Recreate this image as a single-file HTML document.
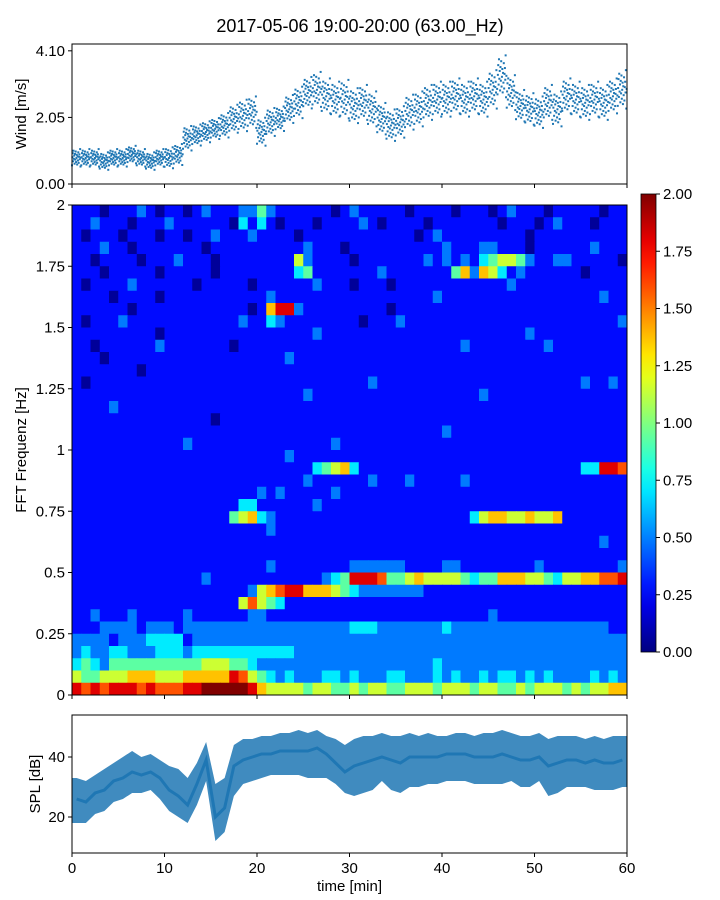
<!DOCTYPE html>
<html><head><meta charset="utf-8">
<style>
html,body{margin:0;padding:0;background:#fff;}
svg{display:block;font-family:"Liberation Sans",sans-serif;}
</style></head>
<body>
<svg id="fig" width="720" height="900" xmlns="http://www.w3.org/2000/svg">
<text x="360" y="32" font-size="18" text-anchor="middle">2017-05-06 19:00-20:00 (63.00_Hz)</text>
<g id="wind"></g>
<g id="spec"></g>
<g id="cbar"></g>
<g id="spl"></g>
</svg>
<script>
// ---- data ----
const timeTicks=[0,10,20,30,40,50,60];
const windTicks=[0,2.05,4.10];
const windTickLabels=["0.00","2.05","4.10"];
const windMean=[0.8,0.8,0.8,0.7,0.8,0.8,0.9,0.8,0.7,0.8,0.8,0.9,1.4,1.5,1.6,1.7,1.8,2.0,2.1,2.2,1.6,1.9,2.0,2.3,2.5,2.8,2.9,2.7,2.6,2.6,2.4,2.5,2.3,2.0,1.8,1.9,2.2,2.3,2.5,2.6,2.6,2.7,2.6,2.7,2.6,2.9,3.3,2.8,2.4,2.3,2.2,2.5,2.3,2.7,2.6,2.5,2.6,2.5,2.7,2.9];
const windSpread=[0.25,0.25,0.25,0.25,0.25,0.25,0.25,0.25,0.25,0.25,0.3,0.3,0.35,0.3,0.3,0.3,0.35,0.4,0.45,0.45,0.4,0.4,0.35,0.4,0.45,0.45,0.5,0.5,0.5,0.55,0.5,0.5,0.5,0.45,0.45,0.45,0.5,0.5,0.5,0.5,0.5,0.5,0.5,0.5,0.5,0.55,0.6,0.5,0.45,0.45,0.45,0.5,0.5,0.5,0.5,0.5,0.5,0.5,0.5,0.55];
const jitter=[-0.9,0.1,0.6,-0.4,0.9,-0.1,0.3,-0.7,0.5,-0.2,0.8,-0.5,0.0,0.4,-0.8,0.2,-0.3,0.7,-0.6,0.15,0.45,-0.15,1.1,-1.05,0.05];
const freqTicks=[0,0.25,0.5,0.75,1,1.25,1.5,1.75,2];
const freqTickLabels=["0","0.25","0.5","0.75","1","1.25","1.5","1.75","2"];
const cbarTicks=[0,0.25,0.5,0.75,1,1.25,1.5,1.75,2];
const cbarTickLabels=["0.00","0.25","0.50","0.75","1.00","1.25","1.50","1.75","2.00"];
// rows from top (2.0 Hz) to bottom (0 Hz), 0.05 Hz each; digit d -> value d*0.22+0.05
const specRows=[
"111011121011012111224211111101211111011110111012111011111011",
"112111011121111110313101110111121011110111111101110121110111",
"101110111011011211121111011111111111101211111111101111111111",
"111211011111110111111111121110111111111121112211101111112111",
"110111101112111011111111521111011111112121213455421122111110",
"111011111011111011111111341111111211111114626531211111101111",
"101111211111101111101111112111011101111111111112111111111111",
"111101111011111111111211111111111111111211111111111111111211",
"111111011111111111101688211111111101111111111111111111111111",
"101112111111111111211321111111101112111111111111111111111112",
"111111111011111111111111112111111111111111111111121111111111",
"110111111211111110111111111111111111111111211111111211111111",
"111011111111111111111112111111111111111111111111111111111111",
"111111101111111111111111111111111111111111111111111111111111",
"101111111111111111111111111111112111111111111111111111121121",
"111111111111111111111111121111111111111111112111111111111111",
"111121111111111111111111111111111111111111111111111111111111",
"111111111111111011111111111111111111111111111111111111111111",
"111111111111111111111111111111111111111121111111111111111111",
"111111111111211111111111111121111111111111111111111111111111",
"111111111111111111111112111111111111111111111111111111111111",
"111111111111111111111111113456311111111111111111111111133887",
"111111111111111111111111121111112111211111211111111111111111",
"111111111111111111112121111121111111111111111111111111111111",
"111111111111111111331111112111111111111111111111111111111111",
"111111111111111114563211111111111111111111135665565561111111",
"111111111111111111111211111111111111111111111111111111111111",
"111111111111111111111111111111111111111111111111111111111211",
"111111111111111111111111111111111111111111111111111111111111",
"111111111111111111111211111111222222111122111111112111111112",
"111111111111112111111111111234888744565555434466655435566778",
"111111111111111111125678866654322222221111111111111111111111",
"111111111111111111575431111111111111111111111111111111111111",
"112111211111211111122111111111111111111111111211111111111111",
"111222212221222222222222222222333222222232222222222222222211",
"222212223333122222222222222222222222222222222222222222222222",
"232233222333233333333333222222222222222222222222222222222222",
"343244444444445554432222222222222222222322222222222222222222",
"544555666555666668754323222332322233222323223233232322223232",
"878788878777889999986555545544545544555455545544545554545566"
];
const splUpper=[33,32,34,36,38,40,42,40,41,39,37,36,33,38,45,31,33,44,46,46,47,47,48,48,49,48,49,47,46,44,46,47,47,48,47,47,48,47,48,47,47,48,48,47,48,48,49,48,47,47,48,46,47,47,47,46,47,46,47,47];
const splLower=[18,18,21,22,25,26,28,28,29,26,22,20,18,24,32,12,15,27,31,32,33,34,34,34,34,33,33,33,31,28,27,28,29,32,29,28,30,30,31,31,32,32,32,31,31,31,31,32,30,30,32,27,28,30,30,30,29,29,29,30];
const splMean=[26,25,28,29,32,33,35,34,35,33,29,27,24,31,39,20,23,37,39,40,41,41,42,42,42,42,43,41,38,35,37,38,39,40,39,38,40,40,40,40,41,41,41,40,40,40,41,40,39,39,40,37,38,39,39,38,39,38,38,39];

// ---- helpers ----
const NS="http://www.w3.org/2000/svg";
function mk(parent,tag,attrs){const e=document.createElementNS(NS,tag);for(const k in attrs)e.setAttribute(k,attrs[k]);parent.appendChild(e);return e;}
const X0=72,X1=627;
const xT=t=>X0+(X1-X0)*t/60;
function jet(v){v=Math.max(0,Math.min(1,v));const c=x=>Math.round(255*Math.max(0,Math.min(1,x)));
 return `rgb(${c(1.5-Math.abs(4*v-3))},${c(1.5-Math.abs(4*v-2))},${c(1.5-Math.abs(4*v-1))})`;}
function frame(g,y0,y1,name){const r=mk(g,'rect',{x:X0,y:y0,width:X1-X0,height:y1-y0,fill:'none',stroke:'#000','stroke-width':1});}
function xticks(g,y1,labels){timeTicks.forEach(t=>{const l=mk(g,'line',{x1:xT(t),x2:xT(t),y1:y1,y2:y1+4,stroke:'#000'});
 if(labels){const tx=mk(g,'text',{x:xT(t),y:y1+20,'font-size':15,'text-anchor':'middle'});tx.textContent=t;}});}
function yticks(g,ticks,labels,yf){ticks.forEach((t,i)=>{const y=yf(t);const l=mk(g,'line',{x1:X0-4,x2:X0,y1:y,y2:y,stroke:'#000'});
 const tx=mk(g,'text',{x:X0-7,y:y+5,'font-size':15,'text-anchor':'end'});tx.textContent=labels[i];});}
function ytitle(g,x,y,txt,name){const t=mk(g,'text',{x:x,y:y,'font-size':15,'text-anchor':'middle',transform:`rotate(-90 ${x} ${y})`});t.textContent=txt;}

// ---- wind ----
(function(){const g=document.getElementById('wind');const Y0=44,Y1=184,VMAX=4.31;
 const yW=v=>Y1-(Y1-Y0)*v/VMAX;
 windMean.forEach((m,i)=>{jitter.forEach((j,k)=>{const t=i+k/jitter.length;const v=Math.max(0.02,m+j*windSpread[i]);
  const p=mk(g,'rect',{x:xT(t)-1,y:yW(v)-1,width:2,height:2,fill:'#1f77b4'});});});
 frame(g,Y0,Y1,'wind-axes');xticks(g,Y1,false);yticks(g,windTicks,windTickLabels,yW);ytitle(g,26,114,'Wind [m/s]','wind-y-axis-title');})();

// ---- spectrogram ----
(function(){const g=document.getElementById('spec');const Y0=205,Y1=695;const nR=specRows.length;const rowH=(Y1-Y0)/nR;
 const yF=f=>Y1-(Y1-Y0)*f/2;
 specRows.forEach((row,r)=>{for(let c=0;c<60;c++){const d=c<row.length?+row[c]:1;const v=d*0.22+0.05;
  const cell=mk(g,'rect',{x:xT(c),y:Y0+r*rowH,width:xT(c+1)-xT(c)+0.5,height:rowH+0.5,fill:jet(v/2)});
  }});
 frame(g,Y0,Y1,'spectrogram-axes');xticks(g,Y1,false);yticks(g,freqTicks,freqTickLabels,yF);ytitle(g,26,450,'FFT Frequenz [Hz]','freq-y-axis-title');})();

// ---- colorbar ----
(function(){const g=document.getElementById('cbar');const x=641,w=15,Y0=194,Y1=652;
 const defs=mk(g,'defs',{});const lg=mk(defs,'linearGradient',{id:'jetg',x1:0,y1:1,x2:0,y2:0});
 for(let i=0;i<=20;i++)mk(lg,'stop',{offset:i/20,'stop-color':jet(i/20)});
 const r=mk(g,'rect',{x:x,y:Y0,width:w,height:Y1-Y0,fill:'url(#jetg)',stroke:'#000','stroke-width':0.8});
 cbarTicks.forEach((t,i)=>{const y=Y1-(Y1-Y0)*t/2;mk(g,'line',{x1:x+w,x2:x+w+4,y1:y,y2:y,stroke:'#000'});
  const tx=mk(g,'text',{x:x+w+7,y:y+5,'font-size':15});tx.textContent=cbarTickLabels[i];});})();

// ---- SPL ----
(function(){const g=document.getElementById('spl');const Y0=715,Y1=853,VMIN=8,VMAX=54;
 const yS=v=>Y1-(Y1-Y0)*(v-VMIN)/(VMAX-VMIN);
 let pts=splUpper.map((v,i)=>`${xT(i+0.5)},${yS(v)}`);pts.unshift(`${xT(0)},${yS(splUpper[0])}`);pts.push(`${xT(60)},${yS(splUpper[59])}`);
 let low=splLower.map((v,i)=>`${xT(i+0.5)},${yS(v)}`).reverse();low.unshift(`${xT(60)},${yS(splLower[59])}`);low.push(`${xT(0)},${yS(splLower[0])}`);
 const band=mk(g,'polygon',{points:pts.concat(low).join(' '),fill:'#1f77b4','fill-opacity':0.85});
 const core=mk(g,'polyline',{points:splMean.map((v,i)=>`${xT(i+0.5)},${yS(v)}`).join(' '),fill:'none',stroke:'#1f77b4','stroke-width':3});
 frame(g,Y0,Y1,'spl-axes');xticks(g,Y1,true);yticks(g,[20,40],["20","40"],yS);ytitle(g,40,784,'SPL [dB]','spl-y-axis-title');
 const xt=mk(g,'text',{x:(X0+X1)/2,y:891,'font-size':15,'text-anchor':'middle'});xt.textContent='time [min]';})();
</script>
</body></html>
